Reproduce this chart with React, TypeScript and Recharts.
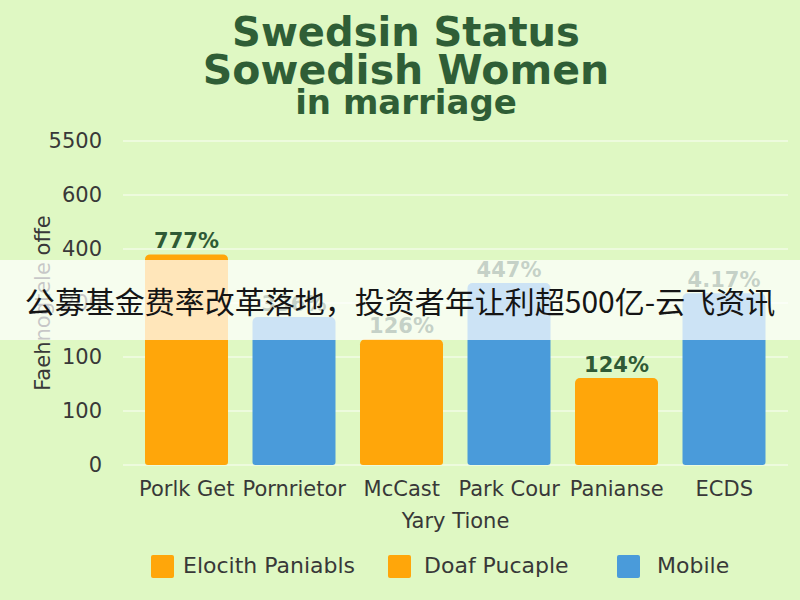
import React from "react";
import { BarChart, Bar, XAxis, YAxis, CartesianGrid, Cell, LabelList } from "recharts";

const titleLines = ["Swedsin Status", "Sowedish Women", "in marriage"];
const categories = ["Porlk Get", "Pornrietor", "McCast", "Park Cour", "Panianse", "ECDS"];
const values = [390, 274, 233, 337, 161, 318];
const valueLabels = ["777%", "336%", "126%", "447%", "124%", "4.17%"];
const barColors = ["#FFA60A", "#4A9BDA", "#FFA60A", "#4A9BDA", "#FFA60A", "#4A9BDA"];
const yTicks = [0, 100, 200, 300, 400, 500, 600];
const yTickLabels = ["0", "100", "100", "200", "400", "600", "5500"];
const legendNames = ["Elocith Paniabls", "Doaf Pucaple", "Mobile"];
const legendColors = ["#FFA60A", "#FFA60A", "#4A9BDA"];
const xTitle = "Yary Tione";
const yTitle = "Faehnogtele offe";
const bannerText = "公募基金费率改革落地，投资者年让利超500亿-云飞资讯";

const data = categories.map((name, i) => ({ name, value: values[i], label: valueLabels[i] }));

const BG = "#DFF8C3";
const TITLE = "#2F5E36";

export default function App() {
  return (
    <div style={{ position: "absolute", left: 0, top: 0, width: 800, height: 600, background: BG, overflow: "hidden", fontFamily: "DejaVu Sans, sans-serif" }}>
      <div style={{ position: "absolute", left: 0, top: 12, width: 812, textAlign: "center", color: TITLE, fontWeight: "bold", lineHeight: 1 }}>
        <div style={{ fontSize: 40, height: 38 }}>{titleLines[0]}</div>
        <div style={{ fontSize: 41, height: 35 }}>{titleLines[1]}</div>
        <div style={{ fontSize: 34 }}>{titleLines[2]}</div>
      </div>
      <div style={{ position: "absolute", left: 0, top: 0 }}>
        <BarChart width={800} height={600} data={data} margin={{ top: 141, right: 12, bottom: 55, left: 0 }} style={{ fontFamily: "DejaVu Sans, sans-serif" }}>
          <CartesianGrid vertical={false} stroke="#F2FCE6" strokeWidth={1.6} />
          <XAxis
            dataKey="name"
            interval={0}
            tickLine={false}
            axisLine={false}
            tickMargin={10}
            height={80}
            padding={{ left: 10, right: 10 }}
            tick={{ fill: "#383838", fontSize: 21 }}
            label={{ value: xTitle, position: "insideBottom", offset: 17, fill: "#383838", fontSize: 21 }}
          />
          <YAxis
            width={123}
            domain={[0, 600]}
            ticks={yTicks}
            tickFormatter={(v, i) => yTickLabels[i]}
            tickLine={false}
            axisLine={false}
            tickSize={0}
            tickMargin={21}
            tick={{ fill: "#383838", fontSize: 21 }}
            label={{ value: yTitle, angle: -90, position: "insideLeft", offset: 43, fill: "#383838", fontSize: 21, style: { textAnchor: "middle" } }}
          />
          <Bar dataKey="value" barSize={83} radius={[5, 5, 3, 3]} isAnimationActive={false}>
            {data.map((d, i) => (
              <Cell key={d.name} fill={barColors[i]} />
            ))}
            <LabelList dataKey="label" position="top" offset={6} fill="#2F5A36" fontSize={21} fontWeight="bold" />
          </Bar>
        </BarChart>
      </div>
      <div style={{ position: "absolute", left: 0, top: 260, width: 800, height: 80, background: "rgba(255,255,255,0.72)", display: "flex", alignItems: "center", justifyContent: "center", fontFamily: "Noto Sans CJK SC, sans-serif", fontSize: 30, color: "#151515", whiteSpace: "nowrap" }}>
        {bannerText}
      </div>
      {legendNames.map((n, i) => {
        const sq = [151, 388, 617][i];
        const tx = [183, 424, 657][i];
        return (
          <React.Fragment key={n}>
            <div style={{ position: "absolute", left: sq, top: 555, width: 23, height: 23, background: legendColors[i], borderRadius: 2 }} />
            <div style={{ position: "absolute", left: tx, top: 553, fontSize: 22, color: "#383838", lineHeight: "26px", whiteSpace: "nowrap" }}>{n}</div>
          </React.Fragment>
        );
      })}
    </div>
  );
}
